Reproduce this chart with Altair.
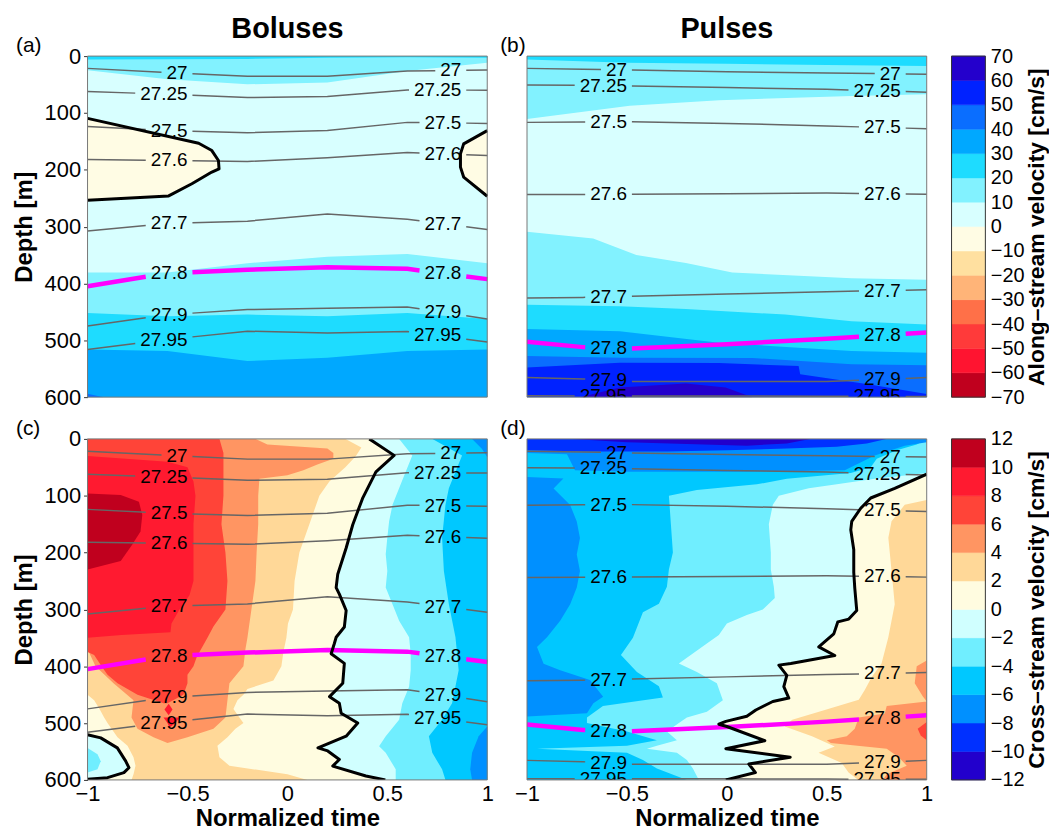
import numpy as np
import pandas as pd
import altair as alt

FONT = "Liberation Sans"
W, H = 402, 343
EXTRA = 15          # spare room right of the left-hand panels (gap 40 vs 25)
CBW = 34
LAB_FS = 19
LBL_L, LBL_R = -0.5, 0.87   # right edge (normalized time) of the inline contour labels

# ---------------- colour levels ----------------
ALONG_EDGES = list(range(-70, 80, 10))
ALONG_COLORS = ["#C0001E", "#FF1430", "#FF3A3A", "#FF7048", "#FFB478", "#FFE0A0", "#FFFCE4",
                "#D8FFFF", "#82F2FF", "#1EDCFF", "#00A8FF", "#0A6EFF", "#0022FF", "#2400CC"]
CROSS_EDGES = list(range(-12, 14, 2))
CROSS_COLORS = ["#2200CC", "#0030FF", "#0090FF", "#00C8FF", "#70EEFF", "#D0FFFF",
                "#FFFCE0", "#FFD898", "#FF9562", "#FF4438", "#FF1A30", "#C0001E"]


def along(lo):
    return ALONG_COLORS[ALONG_EDGES.index(lo)]


def cross(lo):
    return CROSS_COLORS[CROSS_EDGES.index(lo)]


# ---------------- isopycnals (depth in m at normalized time) ----------------
A_T = [-1, -0.6, -0.2, 0.2, 0.6, 1]
A_ISO = {
    "27": [21.6, 29.0, 35.6, 35.6, 26.2, 24.5],
    "27.25": [62.4, 67.0, 72.9, 71.1, 59.5, 60.0],
    "27.5": [124.0, 131.0, 134.7, 131.0, 116.6, 118.4],
    "27.6": [182.0, 183.7, 185.4, 179.0, 169.7, 175.0],
    "27.7": [307.9, 294.5, 290.4, 277.6, 286.9, 305.0],
    "27.8": [405.0, 382.0, 376.0, 371.4, 374.3, 392.4],
    "27.9": [475.0, 455.0, 446.0, 443.7, 441.4, 462.4],
    "27.95": [516.0, 498.5, 484.0, 487.0, 484.5, 503.0],
}
B_T = [-1, -0.72, -0.5, 0, 0.5, 1]
B_ISO = {
    "27": [21.6, 23.0, 24.5, 27.4, 29.7, 32.0],
    "27.25": [50.7, 51.5, 52.5, 55.4, 58.3, 63.6],
    "27.5": [116.6, 116.0, 115.5, 118.4, 123.0, 127.7],
    "27.6": [243.7, 243.3, 243.0, 242.0, 240.8, 243.2],
    "27.7": [425.7, 424.5, 422.7, 418.7, 414.6, 411.0],
    "27.8": [502.6, 512.0, 514.9, 507.0, 497.4, 486.3],
    "27.9": [565.6, 568.0, 572.6, 572.6, 572.6, 565.6],
    "27.95": [597.7, 597.8, 598.0, 598.0, 598.5, 599.0],
}

# ---------------- zero-velocity contours (t, depth) ----------------
A_BOLUS_L_D = [109.6, 153.4, 166.2, 183.7, 198.3, 204.0, 224.5, 246.0, 253.6]
A_BOLUS_L_T = [-1, -0.444, -0.378, -0.345, -0.342, -0.378, -0.478, -0.594, -1]
A_BOLUS_R_D = [131.2, 154.5, 172.0, 195.3, 212.8, 246.6]
A_BOLUS_R_T = [1, 0.882, 0.866, 0.866, 0.882, 1]

C_ZERO_D = [0, 29, 58, 104.7, 151, 192, 238, 261.6, 273, 302, 331, 349, 360, 378, 395, 430,
            453.5, 465, 482.6, 500, 523, 543.6, 549, 564, 575.6, 593, 600]
C_ZERO_T = [0.41, 0.534, 0.443, 0.376, 0.327, 0.294, 0.252, 0.244, 0.26, 0.294, 0.285, 0.244,
            0.235, 0.219, 0.285, 0.277, 0.211, 0.26, 0.269, 0.352, 0.294, 0.153, 0.202, 0.26,
            0.227, 0.393, 0.49]
C_LOOP_D = [520.4, 526, 543.6, 566.9, 578.5, 587.2, 596, 598.8]
C_LOOP_T = [-1, -0.934, -0.851, -0.809, -0.793, -0.818, -0.9, -1]

D_ZERO_D = [62, 87, 104, 122, 145, 160, 195, 235, 262, 302, 317, 322, 343, 366, 381, 395, 398,
            416, 436, 456, 462, 477, 488, 497, 502, 506, 531, 545, 560, 572, 587, 600]
D_ZERO_T = [1.0, 0.84, 0.72, 0.67, 0.625, 0.62, 0.635, 0.635, 0.64, 0.65, 0.61, 0.555, 0.535,
            0.46, 0.54, 0.32, 0.26, 0.30, 0.285, 0.31, 0.23, 0.145, 0.10, -0.005, -0.04, 0.0,
            0.19, -0.005, 0.317, 0.11, 0.143, -0.005]

# ---------------- filled velocity bands ----------------
# ("v", colour, t, depth_top, depth_bottom)  or  ("h", colour, depth, t_left, t_right)
A_PATCHES = [
    ("v", along(0), [-1, 1], [0, 0], [600, 600]),
    ("v", along(10), A_T, [0] * 6, [25, 40.8, 49.6, 46.6, 26.2, 11.7]),
    ("v", along(20), A_T, [0] * 6, [6, 5.5, 5, 3, 2, 3]),
    ("v", along(10), A_T, [380.8, 380.8, 364.4, 352.8, 348.1, 364.4], [600] * 6),
    ("v", along(20), A_T, [452, 457.7, 454.8, 457.7, 452, 462.4], [600] * 6),
    ("v", along(30), A_T, [516, 519, 536.5, 530.6, 519, 516], [600] * 6),
    ("v", along(40), [-1, -0.92], [594, 600], [600, 600]),
    ("h", along(-10), A_BOLUS_L_D, [-1] * 9, A_BOLUS_L_T),
    ("h", along(-10), A_BOLUS_R_D, A_BOLUS_R_T, [1] * 6),
]

B_PATCHES = [
    ("v", along(0), [-1, 1], [0, 0], [600, 600]),
    ("v", along(10), [-1, -0.486, -0.039, 0.624, 1], [0] * 5, [110.8, 87.5, 77.6, 70, 67.1]),
    ("v", along(20), [-1, -0.5, 0, 0.5, 1], [0] * 5, [5.8, 11.7, 13.4, 15.7, 17.5]),
    ("v", along(10), [-1, -0.669, -0.453, -0.205, 0.027, 0.624, 1],
     [309, 320.7, 350, 364, 380.8, 390.7, 393.6], [600] * 7),
    ("v", along(20), [-1, -0.536, -0.205, 0.292, 0.624, 1],
     [437.3, 440, 445, 454.8, 466.5, 472.3], [600] * 6),
    ("v", along(30), [-1, -0.536, -0.039, 0.624, 1], [480, 484, 504.4, 519, 522], [600] * 5),
    ("v", along(40), [-1, -0.536, 0.127, 0.624, 1], [527.7, 530.6, 531, 542.3, 544], [600] * 5),
    ("v", along(50), [-1, -0.536, -0.039, 0.359, 0.367, 0.707, 1],
     [548, 539.4, 540, 545.2, 559.8, 577.3, 594.7], [600] * 7),
    ("v", along(60), [-0.735, -0.536, -0.205, -0.006, 0.127], [600, 583, 576, 583, 600], [600] * 5),
]

C2_D = [0, 15, 30, 50, 75, 100, 125, 150, 200, 250, 300, 325, 350, 375, 400, 425, 440, 450,
        460, 475, 490, 500, 510, 525, 540, 560, 575, 590, 600]
C2_L = [-1] * 18 + [-0.967, -0.94, -0.917, -0.9, -0.88, -0.85, -0.80, -0.77, -0.76, -0.77, -0.78]
C2_R = [0.29, 0.37, 0.343, 0.29, 0.21, 0.16, 0.135, 0.11, 0.06, 0.036, 0.028, 0.003, -0.005,
        -0.02, -0.03, -0.07, -0.2, -0.22, -0.25, -0.27, -0.24, -0.22, -0.26, -0.30, -0.35, -0.34,
        -0.29, 0.0, 0.1]
C4_D = [0, 10, 17, 25, 35, 45, 55, 64, 70, 100, 150, 200, 250, 300, 350, 370, 400, 430, 460,
        490, 510, 525, 535]
C4_L = [-1] * 16 + [-0.96, -0.87, -0.77, -0.78, -0.75, -0.67, -0.6]
C4_R = [-0.16, -0.1, 0.2, 0.23, 0.23, 0.15, 0.08, 0.0, -0.14, -0.146, -0.146, -0.154, -0.16,
        -0.18, -0.2, -0.21, -0.22, -0.29, -0.30, -0.31, -0.37, -0.5, -0.6]
C6_D = [0, 25, 50, 100, 150, 200, 250, 300, 330, 350, 375, 380, 400, 415, 430, 450, 465]
C6_L = [-1] * 11 + [-0.967, -0.93, -0.9, -0.85, -0.75, -0.62]
C6_R = [-0.34, -0.32, -0.32, -0.32, -0.33, -0.31, -0.30, -0.31, -0.37, -0.40, -0.44, -0.45,
        -0.47, -0.50, -0.50, -0.52, -0.6]
C8_D = [30, 40, 50, 75, 100, 150, 200, 250, 275, 300, 325, 340, 345, 350]
C8_R = [-1, -0.6, -0.5, -0.47, -0.46, -0.47, -0.47, -0.47, -0.49, -0.54, -0.58, -0.585, -0.83, -1]
C10_D = [96, 98.8, 110.5, 133.7, 162.8, 186, 215, 229.7]
C10_R = [-1, -0.834, -0.743, -0.726, -0.735, -0.776, -0.834, -1]
CM2_D = [0, 29, 58, 87, 116, 145, 174, 203, 232.6, 261.6, 290.7, 319.8, 348.8, 377.9, 407, 436,
         465, 494, 523, 540.7, 552, 581.4, 600]
CM2_T = [0.559, 0.625, 0.592, 0.559, 0.526, 0.509, 0.5, 0.492, 0.5, 0.492, 0.526, 0.559, 0.609,
         0.617, 0.617, 0.609, 0.575, 0.559, 0.492, 0.459, 0.492, 0.542, 0.542]
CM4_D = [0, 29, 58, 87, 116, 174, 232.6, 290.7, 348.8, 407, 465, 494, 523, 552, 581.4, 600]
CM4_T = [0.725, 0.874, 0.841, 0.808, 0.791, 0.774, 0.783, 0.808, 0.841, 0.857, 0.824, 0.774,
         0.708, 0.725, 0.774, 0.791]

C_PATCHES = [
    ("v", cross(0), [-1, 1], [0, 0], [600, 600]),
    ("h", cross(2), C2_D, C2_L, C2_R),
    ("h", cross(4), C4_D, C4_L, C4_R),
    ("h", cross(6), C6_D, C6_L, C6_R),
    ("h", cross(8), C8_D, [-1] * len(C8_D), C8_R),
    ("h", cross(8), [466, 476, 486], [-0.594, -0.615, -0.594], [-0.594, -0.575, -0.594]),
    ("h", cross(8), [490, 500, 508], [-0.62, -0.6, -0.59], [-0.54, -0.56, -0.59]),
    ("h", cross(10), C10_D, [-1] * len(C10_D), C10_R),
    ("h", cross(-2), C_ZERO_D, C_ZERO_T, [1] * len(C_ZERO_D)),
    ("h", cross(-4), CM2_D, CM2_T, [1] * len(CM2_D)),
    ("h", cross(-6), CM4_D, CM4_T, [1] * len(CM4_D)),
    ("h", cross(-8), [0, 17.4, 32], [0.924, 0.973, 1.0], [1, 1, 1]),
    ("h", cross(-8), [506, 523, 552, 581, 600], [1.0, 0.957, 0.924, 0.915, 0.924], [1] * 5),
    ("h", cross(-2), C_LOOP_D, [-1] * len(C_LOOP_D), C_LOOP_T),
    ("h", cross(-4), [544, 555, 567, 581, 587], [-1] * 5, [-1, -0.95, -0.934, -0.95, -1]),
]

DM2_D = [0, 30, 50, 60, 65, 70, 80, 87, 100, 116, 150, 200, 230, 260, 280, 300, 310, 325, 345,
         360, 385, 395, 410, 430, 460, 480, 490, 500, 515, 530, 540, 545, 552, 565, 580, 600]
DM2_R = [1, 1, 1, 1, 0.88, 0.74, 0.55, 0.41, 0.26, 0.23, 0.21, 0.22, 0.22, 0.235, 0.24, 0.18,
         0.1, 0.0, -0.04, -0.1, -0.2, -0.24, -0.15, -0.05, -0.02, -0.1, -0.2, -0.24, -0.3, -0.25,
         -0.35, -0.4, -0.25, -0.2, -0.17, -0.14]
DM4_D = [0, 10, 20, 35, 50, 60, 70, 80, 90, 100, 150, 200, 230, 260, 290, 305, 350, 380, 410,
         435, 455, 470, 490, 500, 515, 530, 540, 545, 552, 565, 580, 600]
DM4_R = [1.0, 0.95, 0.85, 0.75, 0.72, 0.62, 0.3, 0.15, -0.15, -0.29, -0.28, -0.27, -0.29, -0.30,
         -0.34, -0.42, -0.47, -0.53, -0.45, -0.34, -0.32, -0.62, -0.70, -0.70, -0.5, -0.35, -0.5,
         -0.95, -0.5, -0.42, -0.35, -0.2]
DM6_COL_D = [66.9, 69.8, 87.2, 116.3, 145.4, 174.4, 203.5, 232.6, 261.6, 290.7, 319.8, 348.8,
             366.3, 395.4, 407, 424.4, 453.5, 465, 482.6, 488.4]
DM6_COL_R = [-1, -0.818, -0.867, -0.784, -0.751, -0.735, -0.751, -0.735, -0.751, -0.784, -0.834,
             -0.9, -0.95, -0.917, -0.834, -0.685, -0.619, -0.668, -0.7, -1]
D2_D = [107.6, 116, 145, 174, 232, 291, 349, 395, 419, 442, 459, 477, 494, 506, 523, 541, 552,
        570, 587, 600]
D2_L = [1.0, 0.89, 0.824, 0.808, 0.824, 0.84, 0.808, 0.774, 0.725, 0.69, 0.66, 0.49, 0.327,
        0.29, 0.426, 0.54, 0.459, 0.575, 0.609, 0.658]
D4_D = [390, 400, 430, 453, 462, 470, 483, 490, 510, 523, 530, 535, 545, 560, 575, 590, 600]
D4_L = [1.0, 0.95, 0.94, 0.98, 1.0, 0.8, 0.79, 0.66, 0.64, 0.6, 0.5, 0.52, 0.8, 0.86, 0.9, 0.8,
        0.78]

D_PATCHES = [
    ("v", cross(-2), [-1, 1], [0, 0], [600, 600]),
    ("h", cross(-4), DM2_D, [-1] * len(DM2_D), DM2_R),
    ("h", cross(-6), DM4_D, [-1] * len(DM4_D), DM4_R),
    ("v", cross(-8), [-1, -0.8, -0.76, -0.5, 0, 0.3, 0.59, 0.74, 0.89, 1.0], [0] * 10,
     [25, 27, 55, 58, 58, 57, 55, 29, 12, 6]),
    ("h", cross(-8), DM6_COL_D, [-1] * len(DM6_COL_D), DM6_COL_R),
    ("v", cross(-10), [-1, -0.7, -0.3, 0, 0.3, 0.55, 0.7, 0.8], [0] * 8,
     [20, 22, 22, 20, 17, 14, 8, 0]),
    ("v", cross(-12), [-0.78, -0.5, -0.2, 0.1, 0.3, 0.42], [0] * 6, [0, 6, 9, 12, 8, 0]),
    ("h", cross(0), D_ZERO_D, D_ZERO_T, [1] * len(D_ZERO_D)),
    ("h", cross(2), D2_D, D2_L, [1] * len(D2_D)),
    ("h", cross(4), D4_D, D4_L, [1] * len(D4_D)),
    ("h", cross(6), [498, 510, 522, 530], [1.0, 0.955, 0.97, 1.0], [1] * 4),
]

YS = alt.Scale(domain=[0, 600], nice=False, zero=False, reverse=True)


def xenc(show, xs):
    if show:
        ax = alt.Axis(values=[-1, -0.5, 0, 0.5, 1], format="~g", title="Normalized time",
                      labelFontSize=22, titleFontSize=24, titleFontWeight="bold", ticks=False,
                      domain=False, grid=False, labelPadding=4, titlePadding=2,
                      labelFlush=False, labelOverlap=False)
    else:
        ax = None
    return alt.X("t:Q", scale=xs, axis=ax)


def yenc(show):
    if show:
        ax = alt.Axis(values=list(range(0, 700, 100)), format="d", title="Depth [m]",
                      labelFontSize=22, titleFontSize=24, titleFontWeight="bold", ticks=True,
                      tickSize=4, tickColor="#333333", domain=False, grid=False, labelPadding=3,
                      titlePadding=8, labelFlush=False, labelOverlap=False)
    else:
        ax = None
    return alt.Y("d:Q", scale=YS, axis=ax)


def iso_frames(T, iso):
    gl, ml, lab = [], [], []
    for name, dep in iso.items():
        nd = sum(c.isdigit() for c in name)
        npt = name.count(".")
        wt = LAB_FS * (0.556 * nd + 0.278 * npt) * 2 / W
        pad = 5 * 2 / W
        cuts = [-1.0, LBL_L - wt - pad, LBL_L + pad, LBL_R - wt - pad, LBL_R + pad, 1.0]
        target = ml if name == "27.8" else gl
        for k in range(0, 6, 2):
            a, b = cuts[k], cuts[k + 1]
            ts = [a] + [t for t in T if a < t < b] + [b]
            for i, t in enumerate(ts):
                target.append(dict(t=t, d=float(np.interp(t, T, dep)), key=f"{name}-{k}", i=i))
        for R in (LBL_L, LBL_R):
            c = R - wt / 2
            lab.append(dict(t=c, d=float(np.interp(c, T, dep)), lab=name))
    return pd.DataFrame(gl), pd.DataFrame(ml), pd.DataFrame(lab)


def path_frame(paths):
    rows = []
    for p, (ts, ds) in enumerate(paths):
        for i, (t, d) in enumerate(zip(ts, ds)):
            rows.append(dict(t=t, d=d, key=f"p{p}", i=i))
    return pd.DataFrame(rows)


def panel(patches, T, iso, zpaths, show_x, show_y, letter, letter_dx, title=None, extra=0):
    xs = alt.Scale(domain=[-1, 1], nice=False, zero=False, range=[0, W])
    X = lambda: xenc(show_x, xs)
    Y = lambda: yenc(show_y)
    layers = []
    for kind, color, a, b, c in patches:
        if kind == "v":
            df = pd.DataFrame({"t": a, "d": b, "d2": c})
            layers.append(alt.Chart(df).mark_area(orient="vertical", color=color, clip=True)
                          .encode(x=X(), y=Y(), y2=alt.Y2("d2:Q")))
        else:
            df = pd.DataFrame({"d": a, "t": b, "t2": c})
            layers.append(alt.Chart(df).mark_area(orient="horizontal", color=color, clip=True)
                          .encode(y=Y(), x=X(), x2=alt.X2("t2:Q")))
    gl, ml, lab = iso_frames(T, iso)
    layers.append(alt.Chart(gl).mark_line(color="#666666", strokeWidth=1.5, clip=True)
                  .encode(x=X(), y=Y(), detail="key:N", order="i:Q"))
    layers.append(alt.Chart(ml).mark_line(color="#FF00FF", strokeWidth=4.5, clip=True)
                  .encode(x=X(), y=Y(), detail="key:N", order="i:Q"))
    if zpaths:
        layers.append(alt.Chart(path_frame(zpaths)).mark_line(color="black", strokeWidth=3,
                                                               clip=True, strokeJoin="round")
                      .encode(x=X(), y=Y(), detail="key:N", order="i:Q"))
    layers.append(alt.Chart(lab).mark_text(font=FONT, fontSize=LAB_FS, color="black",
                                           align="center", baseline="middle", clip=True)
                  .encode(x=X(), y=Y(), text="lab:N"))
    frame = pd.DataFrame({"t": [-1], "t2": [1], "d": [0], "d2": [600]})
    layers.append(alt.Chart(frame).mark_rect(filled=False, color="#777777", strokeWidth=1)
                  .encode(x=X(), x2=alt.X2("t2:Q"), y=Y(), y2=alt.Y2("d2:Q")))
    layers.append(alt.Chart(pd.DataFrame({"s": [letter]}))
                  .mark_text(font=FONT, fontSize=21, color="black", align="left", baseline="middle")
                  .encode(x=alt.value(letter_dx), y=alt.value(-10), text="s:N"))
    if title:
        layers.append(alt.Chart(pd.DataFrame({"s": [title]}))
                      .mark_text(font=FONT, fontSize=29, fontWeight="bold", color="black",
                                 align="center", baseline="alphabetic")
                      .encode(x=alt.value(W / 2), y=alt.value(-18), text="s:N"))
    return alt.layer(*layers).properties(width=W + extra, height=H)


def colorbar(edges, colors, title):
    df = pd.DataFrame({"lo": edges[:-1], "hi": edges[1:], "c": colors})
    ys = alt.Scale(domain=[edges[0], edges[-1]], nice=False, zero=False)
    ax = alt.Axis(orient="right", values=edges, format="d", title=title, titleAngle=270,
                  titleBaseline="top", titleFontSize=23, titleFontWeight="bold", labelFontSize=20,
                  ticks=False, domain=False, grid=False, labelPadding=5, titlePadding=2,
                  labelFlush=False, labelOverlap=False)
    bins = alt.Chart(df).mark_rect(strokeWidth=0.5).encode(
        y=alt.Y("lo:Q", scale=ys, axis=ax),
        y2=alt.Y2("hi:Q"),
        fill=alt.Fill("c:N", scale=None, legend=None),
        stroke=alt.Stroke("c:N", scale=None, legend=None),
    )
    box = alt.Chart(pd.DataFrame({"lo": [edges[0]], "hi": [edges[-1]]})).mark_rect(
        filled=False, color="#333333", strokeWidth=1).encode(
        y=alt.Y("lo:Q", scale=ys, axis=ax), y2=alt.Y2("hi:Q"))
    return alt.layer(bins, box).properties(width=CBW, height=H)


pa = panel(A_PATCHES, A_T, A_ISO, [(A_BOLUS_L_T, A_BOLUS_L_D), (A_BOLUS_R_T, A_BOLUS_R_D)],
           False, True, "(a)", -72, "Boluses", extra=EXTRA)
pb = panel(B_PATCHES, B_T, B_ISO, [], False, False, "(b)", -27, "Pulses")
pc = panel(C_PATCHES, A_T, A_ISO, [(C_ZERO_T, C_ZERO_D), (C_LOOP_T, C_LOOP_D)],
           True, True, "(c)", -72, extra=EXTRA)
pdd = panel(D_PATCHES, B_T, B_ISO, [(D_ZERO_T, D_ZERO_D)], True, False, "(d)", -27)

cba = colorbar(ALONG_EDGES, ALONG_COLORS, "Along\u2013stream velocity [cm/s]")
cbc = colorbar(CROSS_EDGES, CROSS_COLORS, "Cross\u2013stream velocity [cm/s]")

chart = (alt.concat(pa, pb, cba, pc, pdd, cbc, columns=3,
                    spacing={"row": 42, "column": 25}, bounds="flush", align="each")
         .properties(padding={"left": 4, "top": 5, "right": 0, "bottom": 0}, background="white")
         .configure_view(strokeWidth=0)
         .configure_axis(labelFont=FONT, titleFont=FONT, labelColor="black", titleColor="black"))

chart.save("out.html", embed_options={"renderer": "svg", "actions": False})
